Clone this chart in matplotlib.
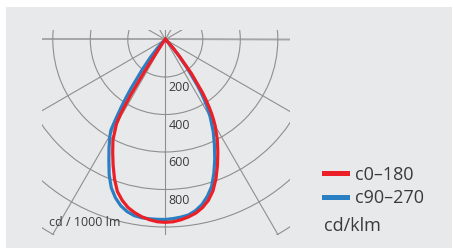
import matplotlib
matplotlib.use("Agg")
import matplotlib.pyplot as plt
from matplotlib.patches import Rectangle
from matplotlib.lines import Line2D
import numpy as np

plt.rcParams['font.family'] = ['Open Sans', 'DejaVu Sans']

# gamma angles (degrees from nadir) and intensities in cd/klm
angles = [0, 2.5, 5, 7.5, 10, 12.5, 15, 17.5, 20, 22.5, 25, 27.5, 30,
          31, 32, 33, 34, 35, 37.5, 40, 42.5, 45, 47.5, 50, 55, 90]
c0 = [975, 973, 965, 954, 940, 918, 888, 846, 790, 727, 663, 600, 532,
      500, 466, 428, 387, 345, 230, 120, 60, 25, 10, 3, 0, 0]
c180 = [975, 973, 965, 954, 938, 918, 888, 850, 792, 727, 664, 605, 522,
        460, 345, 195, 88, 40, 15, 5, 0, 0, 0, 0, 0, 0]
c90 = [958, 956, 951, 944, 927, 902, 866, 822, 758, 690, 620, 554, 480,
       448, 416, 380, 340, 295, 190, 105, 55, 25, 10, 3, 0, 0]
c270 = [960, 960, 960, 959, 954, 940, 918, 885, 842, 782, 712, 650, 590,
        562, 495, 435, 378, 320, 200, 120, 65, 30, 12, 4, 0, 0]

r_ticks = [200, 400, 600, 800, 1000, 1200]
r_labels = [200, 400, 600, 800]
legend_labels = ['c0–180', 'c90–270']

red = '#ec1f27'
blue = '#2a7fc2'
grid_col = '#8f8f8f'
text_col = '#3a3a3a'

W, H = 453, 248
fig = plt.figure(figsize=(W / 100, H / 100), dpi=100)
fig.patch.set_facecolor('white')
fig.add_artist(Rectangle((6 / W, 0), 446 / W, 241 / H, transform=fig.transFigure,
                         facecolor='#e8e9eb', edgecolor='none', zorder=-5))

# polar axes placed so that its centre sits at the top of the visible window
cx, cy = 165.3, 39.5
rmax = 1300
R = rmax * 37.5 / 200
ax = fig.add_axes([(cx - R) / W, (H - cy - R) / H, 2 * R / W, 2 * R / H], projection='polar')
ax.set_theta_zero_location('S')
ax.set_theta_direction(1)
ax.set_rlim(0, rmax)
ax.set_rticks(r_ticks)
ax.set_yticklabels([])
ax.set_xticks(np.radians(np.arange(0, 360, 30)))
ax.set_xticklabels([])
ax.tick_params(which='both', length=0)
ax.grid(True, color=grid_col, lw=0.8)
ax.spines['polar'].set_visible(False)
ax.patch.set_visible(False)

ang = np.array(angles, dtype=float)
th = np.radians(np.concatenate([-ang[::-1], ang[1:]]))
r_blue = np.concatenate([np.array(c270)[::-1], np.array(c90)[1:]])
r_red = np.concatenate([np.array(c180)[::-1], np.array(c0)[1:]])

ax.plot(th, r_blue, color=blue, lw=2.3, solid_joinstyle='round')
ax.plot(th, r_red, color=red, lw=2.3, solid_joinstyle='round')

for r in r_labels:
    ax.annotate(str(r), xy=(0, r), xytext=(3, -11), textcoords='offset pixels',
                ha='left', va='center', fontsize=9, color=text_col)

fig.text(49 / W, 1 - 226 / H, 'cd / 1000 lm', va='baseline', fontsize=9, color=text_col)

handles = [Line2D([], [], color=red, lw=3.6), Line2D([], [], color=blue, lw=3.6)]
fig.legend(handles=handles, labels=legend_labels, loc='upper left',
           bbox_to_anchor=(324 / W, 1 - 165.5 / H), frameon=False, fontsize=13,
           handlelength=1.26, handletextpad=0.46, labelspacing=0.32,
           borderpad=0, borderaxespad=0, labelcolor=text_col)
fig.text(324 / W, 1 - 226 / H, 'cd/klm', va='center', fontsize=13, color=text_col)

# clip the grid to the visible window
clip = Rectangle((42 / W, 1 - 235 / H), 248 / W, 205 / H, transform=fig.transFigure,
                 facecolor='none', edgecolor='none')
fig.canvas.draw()
xgrid = ax.xaxis.get_gridlines()
for gl in list(xgrid) + list(ax.yaxis.get_gridlines()):
    gl.set_clip_path(clip)
for i in (3, 9):
    xgrid[i].set_color('#a6a6a6')
    xgrid[i].set_linewidth(1.4)

fig.savefig('out.png', dpi=100, facecolor=fig.get_facecolor())
